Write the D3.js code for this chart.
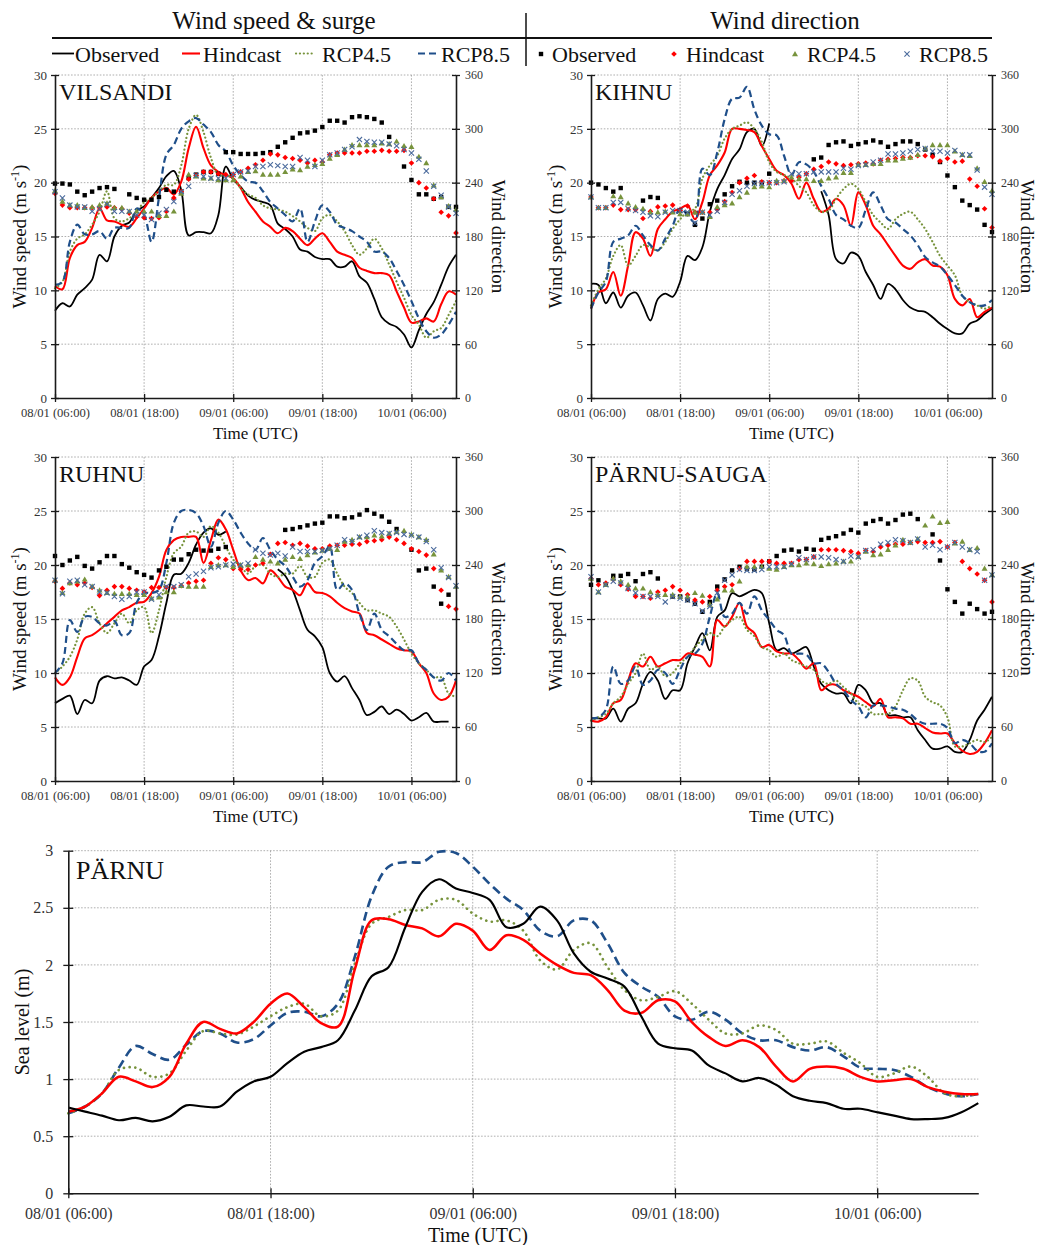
<!DOCTYPE html>
<html>
<head>
<meta charset="utf-8">
<script src="https://cdn.jsdelivr.net/npm/d3@7"></script>
<style>
  body { margin: 0; background: #fff; }
  svg { display: block; }
</style>
</head>
<body>
<svg id="chart" width="1039" height="1245"></svg>
<script>
// Hourly time steps starting 08/01 06:00 UTC
const HOURS = d3.range(0, 55);
const TIME_TICK_HOURS = [0, 12, 24, 36, 48];
const TIME_TICK_LABELS = ["08/01 (06:00)", "08/01 (18:00)", "09/01 (06:00)", "09/01 (18:00)", "10/01 (06:00)"];
const SPEED_TICKS = [0, 5, 10, 15, 20, 25, 30];
const DIR_TICKS = [0, 60, 120, 180, 240, 300, 360];
const LEVEL_TICKS = [0, 0.5, 1, 1.5, 2, 2.5, 3];
const LEVEL_TICK_LABELS = ["0", "0.5", "1", "1.5", "2", "2.5", "3"];
const SERIES_NAMES = ["Observed", "Hindcast", "RCP4.5", "RCP8.5"];

// ---- VILSANDI: wind speed (m/s) ----
const vilObs = [8.1, 8.8, 8.5, 9.6, 10.2, 11.0, 13.3, 12.7, 15.0, 16.0, 16.3, 17.4, 17.8, 18.6, 19.5, 20.6, 21.1, 19.3, 15.1, 15.4, 15.4, 15.3, 17.0, 21.5, 20.3, 19.6, 18.8, 18.4, 18.2, 17.9, 16.2, 15.7, 15.0, 13.8, 13.6, 13.1, 12.9, 12.9, 12.2, 12.2, 12.7, 11.3, 10.7, 9.2, 7.5, 6.9, 6.6, 5.9, 4.7, 6.3, 7.8, 8.9, 10.5, 12.2, 13.3];
const vilHind = [10.4, 10.1, 13.0, 14.2, 14.5, 15.8, 17.6, 16.5, 16.4, 16.1, 15.9, 16.7, 17.6, 18.6, 19.2, 19.5, 18.9, 20.1, 23.2, 25.2, 23.2, 21.6, 21.0, 20.7, 20.4, 19.5, 18.2, 17.3, 16.4, 15.9, 15.3, 15.8, 15.5, 14.8, 14.2, 14.8, 15.3, 14.5, 13.6, 13.3, 13.0, 12.1, 11.8, 11.6, 11.6, 11.4, 9.9, 8.4, 7.0, 7.1, 7.4, 7.1, 8.7, 9.9, 9.6];
const vil45 = [10.2, 10.8, 13.6, 14.8, 15.2, 16.1, 17.3, 19.2, 16.7, 16.4, 16.7, 17.3, 18.2, 18.6, 19.2, 19.8, 19.8, 21.6, 25.0, 26.3, 24.7, 22.3, 20.7, 20.7, 20.4, 19.5, 18.9, 18.6, 17.9, 17.6, 17.5, 17.3, 16.9, 16.4, 15.8, 15.5, 16.7, 17.0, 16.4, 15.5, 14.2, 13.3, 13.9, 14.8, 13.9, 12.4, 10.8, 9.3, 7.7, 6.8, 5.6, 6.2, 6.5, 7.7, 9.0];
const vil85 = [10.5, 10.8, 14.5, 16.1, 15.2, 15.2, 15.5, 14.8, 15.8, 15.8, 15.8, 17.6, 17.0, 14.5, 18.6, 22.6, 23.5, 25.0, 25.7, 26.0, 25.4, 24.7, 23.5, 22.9, 21.6, 20.7, 20.1, 20.0, 19.2, 18.2, 17.6, 17.0, 16.4, 17.6, 14.5, 16.4, 17.9, 17.3, 16.1, 15.8, 15.5, 15.0, 14.5, 13.6, 13.6, 13.0, 11.8, 10.5, 9.0, 7.4, 6.2, 5.6, 5.9, 6.8, 8.0];
// ---- VILSANDI: wind direction (deg) ----
const vilDirObs = [239, 239, 238, 230, 226, 230, 234, 235, 233, null, 227, 223, 221, 221, 224, 232, 230, 230, 245, 249, 252, 252, 250, 274, 274, 272, 272, 272, 273, 274, 280, 285, 290, 295, 296, 298, 302, 309, 309, 307, 313, 314, 313, 311, 307, 291, null, 258, 243, 227, 227, 222, 224, 213, 213];
const vilDirHind = [228, 215, 212, 212, 212, 212, 212, 213, 212, 211, 206, 202, 201, 200, 201, 208, 223, 230, 244, 248, 252, 252, 250, 249, 249, 252, 256, 260, 265, 272, 271, 268, 267, 265, 262, 265, 263, 271, 273, 273, 273, 273, 275, 275, 276, 275, 275, 276, 262, 240, 234, 222, 207, 203, 184];
const vilDir45 = [231, 219, 215, 215, 212, 213, 215, 217, 212, 212, 208, 208, 208, 208, 203, 203, 208, 228, 249, 247, 245, 245, 243, 243, 243, 247, 252, 253, 249, 249, 249, 252, 255, 254, 258, 260, 261, 267, 271, 277, 282, 282, 282, 282, 284, 283, 286, 281, 280, 269, 262, 237, 224, 214, 210];
const vilDir85 = [230, 223, 215, 213, 213, 208, 211, 216, 208, 208, 208, 204, 204, 199, 206, 210, 219, 230, 236, 248, 247, 245, 245, 245, 249, 252, 253, 258, 258, 260, 259, 258, 258, 268, 265, 258, 265, 271, 273, 277, 280, 288, 286, 285, 285, 283, 281, 277, 273, 266, 253, 236, 226, 213, 206];

// ---- KIHNU: wind speed (m/s) ----
const kihObs = [10.6, 10.5, 8.8, 9.8, 8.4, 9.5, 9.8, 8.6, 7.2, 9.2, 9.7, 9.4, 10.8, 13.2, 12.8, 14.0, 17.3, 19.4, 20.7, 22.2, 23.1, 24.7, 25.0, 23.4, 25.5, null, null, null, null, null, null, 19.2, 17.0, 12.9, 12.5, 13.5, 13.2, 11.7, 10.5, 9.2, 10.6, 10.1, 9.1, 8.4, 8.1, 8.0, 7.5, 6.9, 6.4, 6.0, 6.0, 6.9, 7.2, 7.8, 8.3];
const kihHind = [8.3, 9.8, 10.1, 11.7, 9.5, 12.3, 15.4, 14.8, 13.2, 15.7, 16.6, 17.3, 17.6, 17.9, 16.6, 18.2, 20.7, 21.6, 22.8, 25.0, 25.0, 24.9, 24.7, 23.4, 22.2, 21.1, 20.7, 19.9, 18.5, 20.0, 18.5, 17.3, 17.6, 18.5, 17.9, 16.0, 19.1, 17.9, 16.0, 15.2, 14.2, 13.2, 12.3, 12.0, 12.6, 12.9, 12.3, 12.2, 11.4, 9.2, 8.6, 9.2, 7.5, 8.0, 8.4];
const kih45 = [8.6, 10.1, 11.1, 13.2, 14.2, 12.3, 13.2, 14.2, 14.0, 13.7, 14.5, 15.7, 16.6, 17.3, 17.6, 20.4, 21.6, 22.5, 24.1, 25.0, 25.3, 25.6, 25.0, 23.8, 21.9, 21.0, 20.7, 20.4, 19.7, 19.1, 17.9, 17.3, 17.4, 18.5, 19.4, 19.9, 19.4, 18.2, 17.0, 16.3, 15.7, 16.6, 17.1, 17.3, 16.6, 15.7, 14.5, 13.2, 12.3, 11.4, 9.5, 8.9, 8.6, 8.3, 8.6];
const kih85 = [8.3, 9.8, 10.8, 14.5, 14.8, 15.1, 16.0, 15.1, 14.2, 13.7, 14.8, 16.0, 17.6, 17.0, 16.3, 21.3, 20.7, 22.8, 25.9, 27.8, 27.9, 28.9, 26.8, 25.3, 24.5, 24.4, 22.5, 20.7, 21.9, 21.7, 21.0, 19.7, 18.5, 17.0, 16.6, 16.0, 15.8, 17.5, 19.1, 17.9, 16.6, 16.3, 15.7, 15.1, 14.2, 13.1, 12.6, 12.2, 11.4, 10.5, 9.5, 8.9, 8.6, 8.6, 9.1];
// ---- KIHNU: wind direction (deg) ----
const kihDirObs = [240, 238, 234, 230, 234, null, null, 220, 224, 223, null, null, 209, 205, 193, 200, 216, 220, 227, 236, 241, 240, 240, 240, 250, null, null, null, null, null, 266, 268, 282, 285, 286, 281, 283, 285, 287, 285, 280, 283, 286, 286, 283, 277, 271, 263, 248, 235, 220, 215, 210, 193, 185];
const kihDirHind = [224, 212, 212, 215, 210, 210, 210, 200, 208, 213, 214, 215, 209, 214, 207, 207, 207, 210, 219, 229, 240, 245, 248, 241, 240, 240, 242, 242, 246, 250, 255, 258, 263, 261, 259, 260, 261, 262, 261, 265, 266, 267, 268, 268, 270, 270, 269, 264, 267, 263, 264, 244, 236, 211, 190];
const kihDir45 = [224, 212, 212, 225, 224, 217, 213, 211, 207, 207, 208, 207, 205, 205, 207, 207, 202, 213, 215, 217, 224, 229, 235, 236, 235, 242, 242, 246, 244, 244, 242, 242, 245, 246, 251, 251, 260, 260, 261, 261, 265, 265, 267, 268, 271, 278, 282, 282, 282, 275, 271, 270, 256, 241, 231];
const kihDir85 = [224, 212, 212, 218, 218, 211, 209, 207, 203, 202, 207, 209, 209, 207, 195, 207, 204, 208, 218, 227, 231, 236, 239, 239, 240, 240, 241, 250, 250, 250, 252, 252, 252, 252, 256, 255, 259, 260, 263, 265, 272, 272, 273, 275, 277, 278, 275, 275, 273, 276, 271, 271, 254, 235, 227];

// ---- RUHNU: wind speed (m/s) ----
const ruhObs = [7.2, 7.6, 7.9, 6.2, 7.5, 7.2, 9.3, 9.7, 9.5, 9.6, 9.3, 8.9, 10.6, 11.2, 13.4, 16.5, 19.1, 19.2, 20.2, 21.9, 23.0, 23.4, 22.8, 23.1, null, null, null, null, null, null, 19.6, 19.0, 17.7, 15.8, 14.0, 13.4, 12.4, 10.0, 9.2, 9.7, 8.6, 7.5, 6.1, 6.4, 6.9, 6.2, 6.6, 6.2, 5.6, 5.9, 6.3, 5.5, 5.5, 5.5, null];
const ruhHind = [9.6, 8.9, 9.6, 11.5, 13.2, 13.5, 14.0, 14.6, 15.2, 15.8, 16.1, 16.5, 16.6, 17.4, 18.9, 21.4, 22.3, 22.6, 22.6, 22.6, 20.2, 22.3, 24.2, 23.3, 21.4, 19.5, 18.6, 18.8, 18.3, 19.5, 18.9, 18.0, 17.7, 17.2, 18.3, 17.5, 17.4, 17.1, 16.5, 16.0, 15.7, 15.5, 13.7, 13.5, 13.1, 12.7, 12.3, 12.1, 12.0, 10.9, 10.0, 8.1, 7.5, 7.8, 9.3];
const ruh45 = [10.0, 10.6, 11.5, 13.1, 15.5, 16.1, 14.6, 13.7, 14.6, 15.5, 14.6, 15.8, 16.1, 13.7, 15.8, 18.9, 21.1, 21.7, 23.0, 23.1, 22.6, 23.6, 23.0, 21.7, 20.5, 19.9, 19.2, 19.9, 20.0, 19.2, 18.9, 19.2, 19.2, 19.9, 18.9, 18.9, 20.2, 20.5, 19.2, 18.0, 17.4, 16.5, 15.8, 15.8, 15.5, 15.2, 14.3, 13.1, 11.8, 10.9, 10.3, 9.6, 9.6, 8.1, 7.8];
const ruh85 = [10.0, 10.9, 14.9, 13.8, 15.2, 15.2, 14.6, 14.4, 14.8, 13.5, 13.7, 16.5, 17.4, 17.4, 17.7, 20.2, 23.9, 25.0, 25.1, 24.8, 23.6, 21.7, 23.9, 25.0, 24.2, 23.0, 22.0, 21.4, 22.5, 21.4, 20.5, 19.9, 18.9, 18.0, 18.6, 20.2, 20.8, 21.7, 17.7, 18.3, 17.7, 15.5, 14.0, 15.5, 14.0, 13.4, 12.7, 12.1, 12.1, 10.9, 10.3, 9.6, 9.3, 10.0, 9.3];
// ---- RUHNU: wind direction (deg) ----
const ruhDirObs = [250, 240, 245, 249, 239, 236, 243, 250, 250, 241, 237, 232, 229, 226, 234, 238, 246, 246, 252, 257, 256, 256, 258, 260, null, null, null, null, null, null, null, 279, 280, 282, 284, 286, 287, 294, 294, 292, 293, 296, 301, 297, 294, 288, 280, null, 257, 234, 236, 216, 197, 207, null];
const ruhDirHind = [222, 214, 220, 218, 220, 215, 206, 212, 216, 216, 214, 212, 210, 215, 215, 215, 215, 217, 220, 222, 223, 242, 248, 246, 236, 235, 235, 240, 242, 252, 264, 265, 262, 264, 261, 258, 258, 261, 262, 262, 263, 263, 266, 267, 268, 271, 268, 264, 258, 255, 251, 236, 212, 194, 191];
const ruhDir45 = [223, 209, 220, 222, 224, 216, 212, 209, 208, 208, 208, 207, 207, 203, 204, 210, 210, 217, 216, 216, 216, 238, 240, 240, 238, 240, 240, 249, 246, 244, 242, 246, 249, 247, 251, 254, 256, 258, 257, 266, 268, 271, 271, 273, 272, 275, 277, 278, 274, 271, 268, 252, 234, 227, 216];
const ruhDir85 = [223, 208, 222, 223, 218, 216, 210, 209, 205, 202, 205, 210, 210, 202, 207, 216, 216, 218, 227, 230, 233, 237, 238, 240, 241, 240, 242, 257, 253, 251, 253, 250, 260, 255, 255, 255, 256, 258, 262, 268, 266, 271, 273, 278, 276, 275, 276, 274, 273, 271, 266, 257, 237, 226, 217];

// ---- PÄRNU-SAUGA: wind speed (m/s) ----
const psObs = [5.8, 5.8, 5.8, 6.7, 5.5, 6.7, 7.2, 9.0, 10.1, 9.3, 7.6, 8.4, 8.4, 10.9, 12.4, 13.7, 12.1, 15.2, 15.8, 17.4, 17.1, 17.4, 17.7, 17.4, 14.6, 12.1, 12.3, 11.8, 12.1, 12.4, 10.6, 9.0, 8.4, 8.1, 8.1, 7.2, 8.9, 8.4, 7.2, 7.2, 6.1, 6.1, 5.9, 5.9, 4.7, 3.8, 3.0, 3.0, 3.2, 2.7, 2.7, 3.8, 5.6, 6.6, 7.8];
const psHind = [5.6, 5.5, 5.9, 7.2, 7.5, 9.3, 10.9, 10.6, 11.5, 10.6, 10.9, 11.2, 11.2, 11.8, 11.7, 11.5, 10.6, 14.9, 14.3, 15.2, 16.5, 14.3, 13.7, 12.4, 12.6, 12.0, 11.8, 11.8, 11.2, 10.4, 10.9, 8.4, 8.9, 8.9, 8.4, 8.1, 7.8, 7.3, 6.9, 7.6, 5.9, 5.9, 5.8, 5.3, 5.3, 4.9, 4.5, 4.4, 4.4, 3.5, 2.8, 2.5, 2.7, 3.5, 4.7];
const ps45 = [5.6, 5.9, 6.2, 7.2, 7.8, 9.0, 10.0, 11.8, 10.3, 10.6, 9.7, 10.0, 10.9, 11.5, 12.4, 13.1, 13.7, 13.4, 14.3, 14.9, 15.2, 14.0, 13.4, 12.4, 12.1, 11.5, 11.8, 11.2, 10.9, 10.6, 10.3, 9.3, 9.0, 9.3, 8.7, 8.1, 7.2, 6.9, 6.2, 6.2, 6.2, 6.9, 8.4, 9.5, 9.3, 7.8, 7.3, 7.0, 5.9, 3.2, 3.2, 3.5, 3.8, 3.6, 4.1];
const ps85 = [5.8, 5.9, 6.6, 10.6, 9.0, 9.3, 10.6, 8.9, 9.3, 10.3, 10.0, 9.0, 10.3, 11.5, 11.8, 12.7, 15.2, 17.4, 15.2, 15.5, 16.5, 15.5, 17.1, 15.8, 14.9, 14.0, 13.5, 11.8, 11.8, 11.7, 10.9, 10.9, 10.1, 9.0, 8.4, 7.5, 6.9, 5.9, 7.0, 7.0, 6.9, 6.7, 6.6, 6.2, 5.6, 5.3, 5.3, 5.3, 4.9, 3.5, 3.8, 3.5, 2.8, 2.7, 3.5];
// ---- PÄRNU-SAUGA: wind direction (deg) ----
const psDirObs = [218, 223, 218, 228, 228, 230, 222, 230, 232, 225, null, 205, 205, 201, 197, 188, 199, 216, 224, 234, 238, 236, 235, 238, 244, 250, 256, 257, 255, 258, 257, 268, 270, 272, 275, 279, 276, 286, 289, 291, 286, 290, 296, 297, 291, null, 274, 245, 213, 199, 186, 197, 191, 186, 188];
const psDirHind = [225, 218, 220, 224, 218, 213, 205, 205, 203, 210, 212, 216, 212, 207, 201, 199, 205, 212, 216, 218, 236, 244, 244, 244, 244, 242, 242, 242, 246, 246, 249, 257, 257, 257, 256, 255, 253, 256, 255, 260, 262, 263, 263, 265, 266, 265, 265, 266, 260, 265, 244, 236, 230, 223, 199];
const psDir45 = [225, 210, 218, 225, 222, 218, 214, 214, 210, 207, 207, 207, 205, 205, 209, 206, 196, 202, 212, 212, 222, 238, 238, 238, 236, 235, 238, 240, 240, 242, 241, 239, 241, 242, 244, 244, 249, 255, 251, 252, 257, 262, 268, 265, 269, 284, 294, 287, 288, 264, 266, 257, 259, 236, 229];
const psDir85 = [227, 210, 218, 222, 220, 214, 209, 205, 205, 205, 199, 205, 203, 201, 197, 189, 194, 209, 223, 229, 235, 234, 234, 235, 238, 238, 238, 241, 248, 246, 249, 249, 248, 246, 244, 250, 249, 256, 257, 263, 265, 268, 267, 265, 269, 260, 262, 257, 260, 265, 260, 257, 255, 223, 229];

// ---- PÄRNU: sea level (m) ----
const parObs = [0.75, 0.715, 0.68, 0.64, 0.66, 0.63, 0.67, 0.77, 0.76, 0.76, 0.89, 0.98, 1.02, 1.14, 1.24, 1.28, 1.34, 1.6, 1.9, 1.98, 2.33, 2.64, 2.75, 2.67, 2.63, 2.57, 2.33, 2.36, 2.51, 2.39, 2.1, 1.94, 1.88, 1.81, 1.55, 1.31, 1.27, 1.25, 1.12, 1.05, 0.98, 1.01, 0.95, 0.85, 0.81, 0.79, 0.74, 0.74, 0.71, 0.68, 0.65, 0.65, 0.66, 0.71, 0.79];
const parHind = [0.715, 0.76, 0.875, 1.02, 0.98, 0.93, 1.02, 1.31, 1.5, 1.44, 1.4, 1.5, 1.66, 1.75, 1.63, 1.49, 1.46, 1.96, 2.39, 2.4, 2.35, 2.32, 2.25, 2.36, 2.3, 2.13, 2.26, 2.22, 2.1, 2.0, 1.93, 1.91, 1.78, 1.6, 1.58, 1.69, 1.68, 1.5, 1.37, 1.29, 1.34, 1.28, 1.11, 0.98, 1.09, 1.11, 1.09, 1.02, 0.98, 0.99, 1.0, 0.93, 0.89, 0.87, 0.87];
const par45 = [0.70, 0.76, 0.875, 1.08, 1.1, 1.02, 1.05, 1.25, 1.42, 1.4, 1.39, 1.46, 1.55, 1.63, 1.66, 1.55, 1.6, 2.01, 2.36, 2.42, 2.48, 2.48, 2.57, 2.57, 2.45, 2.38, 2.39, 2.3, 2.04, 1.96, 2.13, 2.19, 1.98, 1.78, 1.69, 1.72, 1.77, 1.66, 1.52, 1.4, 1.4, 1.47, 1.43, 1.31, 1.31, 1.33, 1.23, 1.14, 1.02, 1.05, 1.11, 1.02, 0.875, 0.85, 0.875];
const par85 = [0.70, 0.76, 0.875, 1.1, 1.29, 1.22, 1.17, 1.3, 1.42, 1.4, 1.32, 1.35, 1.47, 1.58, 1.59, 1.55, 1.66, 2.07, 2.6, 2.86, 2.9, 2.9, 2.99, 2.98, 2.86, 2.71, 2.58, 2.48, 2.3, 2.25, 2.39, 2.39, 2.19, 1.93, 1.81, 1.72, 1.55, 1.52, 1.59, 1.52, 1.4, 1.34, 1.34, 1.28, 1.25, 1.28, 1.2, 1.1, 1.09, 1.08, 1.02, 0.93, 0.875, 0.85, 0.87];

// ---------------------------------------------------------------
const SERIF = '"Liberation Serif", "Times New Roman", serif';
const COL = { obs: "#000000", hind: "#ff0000", r45: "#77933c", r85: "#1f4f8a", cross: "#4a6a9c" };
const svg = d3.select("#chart");

// line styles shared by legend and panels
function styleLine(sel, key, big) {
  const s = big ? 1.2 : 1;
  if (key === "obs") sel.attr("stroke", COL.obs).attr("stroke-width", 1.8 * s);
  if (key === "hind") sel.attr("stroke", COL.hind).attr("stroke-width", 2.1 * s);
  if (key === "r45") sel.attr("stroke", COL.r45).attr("stroke-width", 2.2 * s)
      .attr("stroke-linecap", "round").attr("stroke-dasharray", big ? "0.1 5.6" : "0.1 3.8");
  if (key === "r85") sel.attr("stroke", COL.r85).attr("stroke-width", 2.2 * s)
      .attr("stroke-dasharray", big ? "9 5" : "7 4");
  return sel.attr("fill", "none");
}

// marker shapes for direction series
const MARK = {
  obs: "M-2.2,-2.2h4.4v4.4h-4.4Z",
  hind: "M0,-2.8L2.8,0L0,2.8L-2.8,0Z",
  r45: "M0,-3L3,2.2L-3,2.2Z",
  r85: "M-2.6,-2.6L2.6,2.6M-2.6,2.6L2.6,-2.6"
};
function styleMark(sel, key) {
  if (key === "r85") return sel.attr("fill", "none").attr("stroke", COL.cross).attr("stroke-width", 1.1);
  return sel.attr("fill", COL[key]).attr("stroke", "none");
}

const pts = arr => HOURS.map((h, i) => ({ h, v: arr[i] }));

function styleAxis(ax, fs) {
  ax.attr("font-family", SERIF).attr("font-size", fs);
  ax.select(".domain").attr("stroke", "#1a1a1a").attr("stroke-width", 1.6);
  ax.selectAll(".tick line").attr("stroke", "#1a1a1a").attr("stroke-width", 1.3);
  ax.selectAll(".tick text").attr("fill", "#333");
}

function gridLines(g, x, y, yTicks, x0, x1, y0, y1) {
  const grid = g.append("g").attr("stroke", "#9a9a9a").attr("stroke-width", 0.8)
    .attr("stroke-dasharray", "1.6 1.6");
  grid.selectAll("line.h").data(yTicks.slice(1)).join("line").attr("class", "h")
    .attr("x1", x0).attr("x2", x1).attr("y1", d => y(d)).attr("y2", d => y(d));
  grid.selectAll("line.v").data(TIME_TICK_HOURS.slice(1)).join("line").attr("class", "v")
    .attr("x1", d => x(d)).attr("x2", d => x(d)).attr("y1", y0).attr("y2", y1);
}

function windPanel(p) {
  const x = d3.scaleLinear().domain([0, 54]).range([p.x0, p.x1]);
  const y = d3.scaleLinear().domain([0, 30]).range([p.y1, p.y0]);
  const yd = d3.scaleLinear().domain([0, 360]).range([p.y1, p.y0]);
  const g = svg.append("g");

  gridLines(g, x, y, SPEED_TICKS, p.x0, p.x1, p.y0, p.y1);

  const line = d3.line().defined(d => d.v != null).x(d => x(d.h)).y(d => y(d.v))
    .curve(d3.curveCatmullRom.alpha(0.5));
  [["obs", p.speed[0]], ["hind", p.speed[1]], ["r45", p.speed[2]], ["r85", p.speed[3]]]
    .forEach(([k, arr]) => styleLine(g.append("path").datum(pts(arr)).attr("d", line), k, false));

  [["obs", p.dir[0]], ["hind", p.dir[1]], ["r45", p.dir[2]], ["r85", p.dir[3]]]
    .forEach(([k, arr]) => {
      styleMark(g.append("g").selectAll("path").data(pts(arr).filter(d => d.v != null)).join("path")
        .attr("d", MARK[k]).attr("transform", d => `translate(${x(d.h)},${yd(d.v)})`), k);
    });

  const axL = g.append("g").attr("transform", `translate(${p.x0},0)`)
    .call(d3.axisLeft(y).tickValues(SPEED_TICKS).tickSize(4).tickSizeOuter(0).tickPadding(4));
  axL.selectAll(".tick line").attr("x1", 4);
  styleAxis(axL, 13);

  const axR = g.append("g").attr("transform", `translate(${p.x1},0)`)
    .call(d3.axisRight(yd).tickValues(DIR_TICKS).tickSize(4).tickSizeOuter(0).tickPadding(5));
  axR.selectAll(".tick line").attr("x1", -4);
  styleAxis(axR, 12);

  const axB = g.append("g").attr("transform", `translate(0,${p.y1})`)
    .call(d3.axisBottom(x).tickValues(TIME_TICK_HOURS).tickFormat((d, i) => TIME_TICK_LABELS[i])
      .tickSize(4).tickSizeOuter(0).tickPadding(6));
  axB.selectAll(".tick line").attr("y1", -4);
  styleAxis(axB, 12.6);

  // axis titles
  const cy = (p.y0 + p.y1) / 2;
  const t = g.append("text").attr("font-family", SERIF).attr("font-size", 19).attr("fill", "#111")
    .attr("text-anchor", "middle").attr("transform", `translate(${p.x0 - 29},${cy}) rotate(-90)`);
  t.append("tspan").text("Wind speed (m s");
  t.append("tspan").attr("dy", -7).attr("font-size", 12).text("-1");
  t.append("tspan").attr("dy", 7).text(")");

  g.append("text").attr("font-family", SERIF).attr("font-size", 19).attr("fill", "#111")
    .attr("text-anchor", "middle").attr("transform", `translate(${p.x1 + p.dirTitleGap},${cy}) rotate(90)`)
    .text("Wind direction");

  g.append("text").attr("font-family", SERIF).attr("font-size", 17).attr("fill", "#111")
    .attr("text-anchor", "middle").attr("x", (p.x0 + p.x1) / 2).attr("y", p.y1 + 41)
    .text("Time (UTC)");

  g.append("text").attr("font-family", SERIF).attr("font-size", 24).attr("fill", "#111")
    .attr("x", p.x0 + 4).attr("y", p.y0 + 25).text(p.name);
}

windPanel({ name: "VILSANDI", x0: 55, x1: 456, y0: 75, y1: 398, dirTitleGap: 36,
  speed: [vilObs, vilHind, vil45, vil85], dir: [vilDirObs, vilDirHind, vilDir45, vilDir85] });
windPanel({ name: "KIHNU", x0: 591, x1: 992, y0: 75, y1: 398, dirTitleGap: 29,
  speed: [kihObs, kihHind, kih45, kih85], dir: [kihDirObs, kihDirHind, kihDir45, kihDir85] });
windPanel({ name: "RUHNU", x0: 55, x1: 456, y0: 457, y1: 781, dirTitleGap: 36,
  speed: [ruhObs, ruhHind, ruh45, ruh85], dir: [ruhDirObs, ruhDirHind, ruhDir45, ruhDir85] });
windPanel({ name: "PÄRNU-SAUGA", x0: 591, x1: 992, y0: 457, y1: 781, dirTitleGap: 29,
  speed: [psObs, psHind, ps45, ps85], dir: [psDirObs, psDirHind, psDir45, psDir85] });

// ---- sea level panel ----
(function () {
  const p = { x0: 68.3, x1: 978.3, y0: 850.7, y1: 1193.3 };
  const x = d3.scaleLinear().domain([0, 54]).range([p.x0, p.x1]);
  const y = d3.scaleLinear().domain([0, 3]).range([p.y1, p.y0]);
  const g = svg.append("g");
  gridLines(g, x, y, LEVEL_TICKS, p.x0, p.x1, p.y0, p.y1);

  const line = d3.line().defined(d => d.v != null).x(d => x(d.h)).y(d => y(d.v))
    .curve(d3.curveCatmullRom.alpha(0.5));
  [["r85", par85], ["r45", par45], ["hind", parHind], ["obs", parObs]]
    .forEach(([k, arr]) => styleLine(g.append("path").datum(pts(arr)).attr("d", line), k, true));

  const axL = g.append("g").attr("transform", `translate(${p.x0},0)`)
    .call(d3.axisLeft(y).tickValues(LEVEL_TICKS).tickFormat((d, i) => LEVEL_TICK_LABELS[i])
      .tickSize(5).tickSizeOuter(0).tickPadding(10));
  axL.selectAll(".tick line").attr("x1", 5);
  styleAxis(axL, 16);

  const axB = g.append("g").attr("transform", `translate(0,${p.y1})`)
    .call(d3.axisBottom(x).tickValues(TIME_TICK_HOURS).tickFormat((d, i) => TIME_TICK_LABELS[i])
      .tickSize(5).tickSizeOuter(0).tickPadding(9));
  axB.selectAll(".tick line").attr("y1", -5);
  styleAxis(axB, 16);

  g.append("text").attr("font-family", SERIF).attr("font-size", 20).attr("fill", "#111")
    .attr("text-anchor", "middle").attr("transform", `translate(29,${(p.y0 + p.y1) / 2}) rotate(-90)`)
    .text("Sea level (m)");
  g.append("text").attr("font-family", SERIF).attr("font-size", 20).attr("fill", "#111")
    .attr("text-anchor", "middle").attr("x", 478).attr("y", 1242).text("Time (UTC)");
  g.append("text").attr("font-family", SERIF).attr("font-size", 26).attr("fill", "#111")
    .attr("x", 76).attr("y", 879).text("PÄRNU");
})();

// ---- header and legend ----
(function () {
  const g = svg.append("g").attr("font-family", SERIF).attr("fill", "#111");
  g.append("text").attr("x", 274).attr("y", 29).attr("font-size", 25).attr("text-anchor", "middle")
    .text("Wind speed & surge");
  g.append("text").attr("x", 785).attr("y", 29).attr("font-size", 25).attr("text-anchor", "middle")
    .text("Wind direction");
  g.append("line").attr("x1", 52).attr("x2", 992).attr("y1", 38).attr("y2", 38)
    .attr("stroke", "#111").attr("stroke-width", 2);
  g.append("line").attr("x1", 526).attr("x2", 526).attr("y1", 13).attr("y2", 66)
    .attr("stroke", "#111").attr("stroke-width", 1.5);

  const keys = ["obs", "hind", "r45", "r85"];
  const lineX = [[52, 74], [182, 200], [296, 314], [418, 440]];
  const textX = [75, 203, 322, 441];
  keys.forEach((k, i) => {
    styleLine(g.append("line").attr("x1", lineX[i][0]).attr("x2", lineX[i][1])
      .attr("y1", 53.5).attr("y2", 53.5), k, false);
    g.append("text").attr("x", textX[i]).attr("y", 61.5).attr("font-size", 22).text(SERIES_NAMES[i]);
  });

  const markX = [541, 674, 795, 907];
  const mTextX = [552, 686, 807, 919];
  keys.forEach((k, i) => {
    styleMark(g.append("path").attr("d", MARK[k]).attr("transform", `translate(${markX[i]},54)`), k);
    g.append("text").attr("x", mTextX[i]).attr("y", 61.5).attr("font-size", 22).text(SERIES_NAMES[i]);
  });
})();
</script>
</body>
</html>
